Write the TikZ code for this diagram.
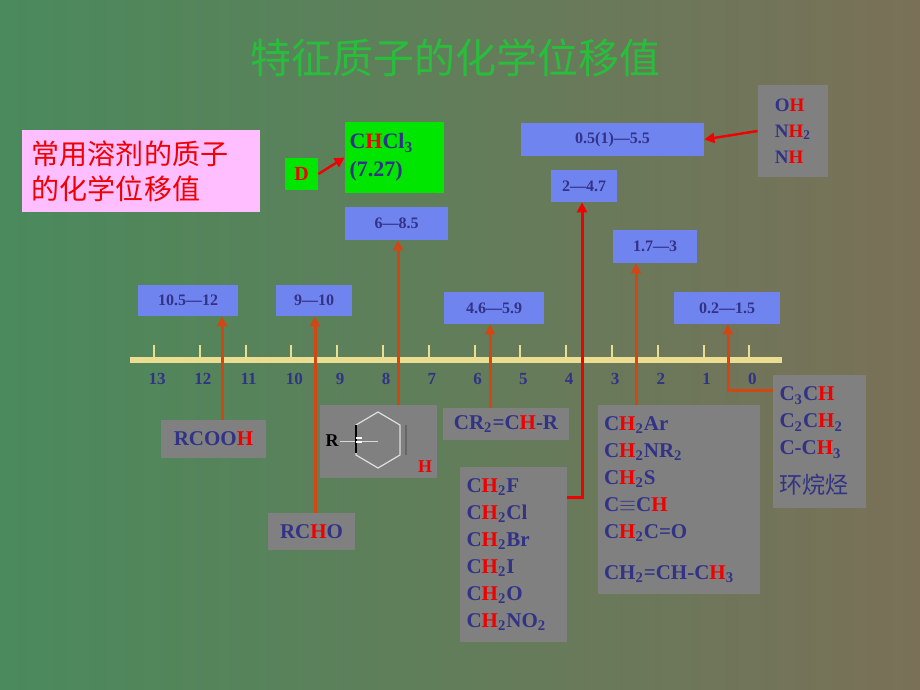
\documentclass[tikz,border=0pt]{standalone}
\usepackage{fontspec}
\setmainfont{Liberation Serif}
\newfontfamily\cjk{Noto Sans CJK SC}
\usetikzlibrary{arrows.meta}
\definecolor{ink}{RGB}{50,50,135}
\definecolor{bluebox}{RGB}{112,132,240}
\definecolor{greybox}{RGB}{128,128,128}
\definecolor{pinkbox}{RGB}{255,190,255}
\definecolor{limebox}{RGB}{0,230,0}
\definecolor{leader}{RGB}{210,70,20}
\definecolor{axis}{RGB}{235,222,145}
\definecolor{hred}{RGB}{240,0,0}
\newcommand{\hh}{\textcolor{hred}{H}}
\begin{document}
\begin{tikzpicture}[x=0.5pt,y=-0.5pt,font=\bfseries]
	\tikzstyle{shiftbox}=[shape=rectangle,fill=bluebox,text=ink,font=\fontsize{8}{9}\selectfont\bfseries,inner sep=0pt]
	\tikzstyle{groupbox}=[shape=rectangle,fill=greybox,text=ink,font=\fontsize{10.5}{13.5}\selectfont\bfseries,align=left,inner sep=0pt]
	\tikzstyle{leadline}=[leader,line width=1.5pt,-{Triangle[length=5pt,width=5pt]}]
	
	\shade[left color={rgb,255:red,74;green,138;blue,92},right color={rgb,255:red,122;green,112;blue,88}] (0,0) rectangle (920,690);
	\useasboundingbox (0,0) rectangle (920,690);
	
	\node (title) at (455,58) [text={rgb,255:red,40;green,190;blue,60},font=\fontsize{20.5}{22}\selectfont\cjk] {特征质子的化学位移值};
	
	%%% axis
	\draw[axis,line width=3pt] (130,360) -- (782,360);
	\foreach \v [count=\i from 0] in {13,12,11,10,9,8,7,6,5,4,3,2,1,0} {
		\draw[axis,line width=1pt] (154+45.8*\i,345) -- (154+45.8*\i,359);
		\node (t\i) at (157+45.8*\i,379) [text=ink,font=\fontsize{8.5}{9}\selectfont\bfseries] {\v};
	}
	
	%%% solvents
	\node (solv) at (141,171) [shape=rectangle,fill=pinkbox,text=hred,minimum width=119pt,minimum height=41pt,inner sep=0pt,align=left,text width=109pt,font=\fontsize{14}{17.5}\selectfont\cjk] {常用溶剂的质子\\的化学位移值};
	\node (d) at (301.5,174) [shape=rectangle,fill=limebox,text=hred,minimum width=16.5pt,minimum height=16pt,font=\fontsize{10}{12}\selectfont\bfseries] {D};
	\node (chcl) at (394.5,157.5) [shape=rectangle,fill=limebox,text=ink,minimum width=49.5pt,minimum height=35.5pt,align=left,text width=45pt,inner sep=0pt,font=\fontsize{11}{14}\selectfont\bfseries] {C\hh Cl\textsubscript{3}\\(7.27)};
	\draw[hred,line width=1.2pt,-{Triangle[length=5pt,width=5pt]}] (d.east) -- (chcl.west);
	
	%%% upper shift boxes
	\node (s68) at (396.5,223.5) [shiftbox,minimum width=51.5pt,minimum height=16.5pt] {6---8.5};
	\node (s105) at (188,300.5) [shiftbox,minimum width=50pt,minimum height=15.5pt] {10.5---12};
	\node (s910) at (314,300.5) [shiftbox,minimum width=38pt,minimum height=15.5pt] {9---10};
	\node (s46) at (494,308) [shiftbox,minimum width=50pt,minimum height=16pt] {4.6---5.9};
	\node (s02) at (727,308) [shiftbox,minimum width=53pt,minimum height=16pt] {0.2---1.5};
	\node (s17) at (655,246.5) [shiftbox,minimum width=42pt,minimum height=16.5pt] {1.7---3};
	\node (s24) at (584,186) [shiftbox,minimum width=33pt,minimum height=16pt] {2---4.7};
	\node (s05) at (612.5,139.5) [shiftbox,minimum width=91.5pt,minimum height=16.5pt] {0.5(1)---5.5};
	\node (nh) at (793,131) [groupbox,minimum width=35pt,minimum height=46pt,font=\fontsize{9.5}{13}\selectfont\bfseries] {O\hh\\N\hh\textsubscript{2}\\N\hh};
	\draw[leadline,line width=1.2pt,hred] (nh.west) -- (s05.east);
	
	%%% lower groups
	\node (rcooh) at (213.5,439) [groupbox,minimum width=52.5pt,minimum height=19pt,align=center] {RCOO\hh};
	\node (benz) at (378.5,441.5) [groupbox,minimum width=58.5pt,minimum height=36.5pt] {};
	\node (rcho) at (311.5,531.5) [groupbox,minimum width=43.5pt,minimum height=18.5pt,align=center] {RC\hh O};
	\node (cr) at (506,424) [groupbox,minimum width=63pt,minimum height=16pt,align=center] {CR\textsubscript{2}=C\hh-R};
	\node (ch2f) at (513.5,554.5) [groupbox,minimum width=53.5pt,minimum height=87.5pt,text width=47pt] {C\hh\textsubscript{2}F\\C\hh\textsubscript{2}Cl\\C\hh\textsubscript{2}Br\\C\hh\textsubscript{2}I\\C\hh\textsubscript{2}O\\C\hh\textsubscript{2}NO\textsubscript{2}};
	\node (ch2ar) at (679,499.5) [groupbox,minimum width=81pt,minimum height=94.5pt,text width=75pt] {C\hh\textsubscript{2}Ar\\C\hh\textsubscript{2}NR\textsubscript{2}\\C\hh\textsubscript{2}S\\C$\equiv$C\hh\\C\hh\textsubscript{2}C=O\\[7pt]CH\textsubscript{2}=CH-C\hh\textsubscript{3}};
	\node (c3ch) at (819.5,441.5) [groupbox,minimum width=46.5pt,minimum height=66.5pt,text width=40pt] {C\textsubscript{3}C\hh\\C\textsubscript{2}C\hh\textsubscript{2}\\C-C\hh\textsubscript{3}\\[6pt]{\cjk\mdseries\fontsize{11.5}{13}\selectfont 环烷烃}};
	
	%%% benzene sketch
	\draw[white!75!greybox,line width=0.6pt] (356,425) -- (378,412) -- (400,425) -- (400,455) -- (378,468) -- (356,455) -- cycle;
	\draw[white!70!greybox,line width=0.5pt] (340,441) -- (378,441);
	\draw[black,line width=0.8pt] (356,425) -- (356,453);
	\draw[black!60,line width=0.8pt] (406,425) -- (406,455);
	\draw[white,line width=1pt] (356,438) -- (362,438) (356,442) -- (362,442);
	\node (r) at (332,441) [font=\fontsize{9}{10}\selectfont\bfseries] {R};
	\node (hb) at (425,467) [text=hred,font=\fontsize{9}{10}\selectfont\bfseries] {H};
	
	%%% leaders
	\draw[leadline] ([xshift=4.25pt]rcooh.north) -- ([xshift=17pt]s105.south);
	\draw[leadline] ([xshift=1.75pt]rcho.north) -- ([xshift=0.5pt]s910.south);
	\draw[leadline] ([xshift=9.75pt]benz.north) -- ([xshift=0.75pt]s68.south);
	\draw[leadline] ([xshift=-8pt]cr.north) -- ([xshift=-2pt]s46.south);
	\draw[leadline] ([xshift=-21.5pt]ch2ar.north) -- ([xshift=-9.5pt]s17.south);
	\draw[leadline,hred] ([yshift=28.75pt]ch2f.east) -| ([xshift=-1pt]s24.south);
	\draw[leadline] ([yshift=25.75pt]c3ch.west) -| ([xshift=0.5pt]s02.south);
\end{tikzpicture}
\end{document}
